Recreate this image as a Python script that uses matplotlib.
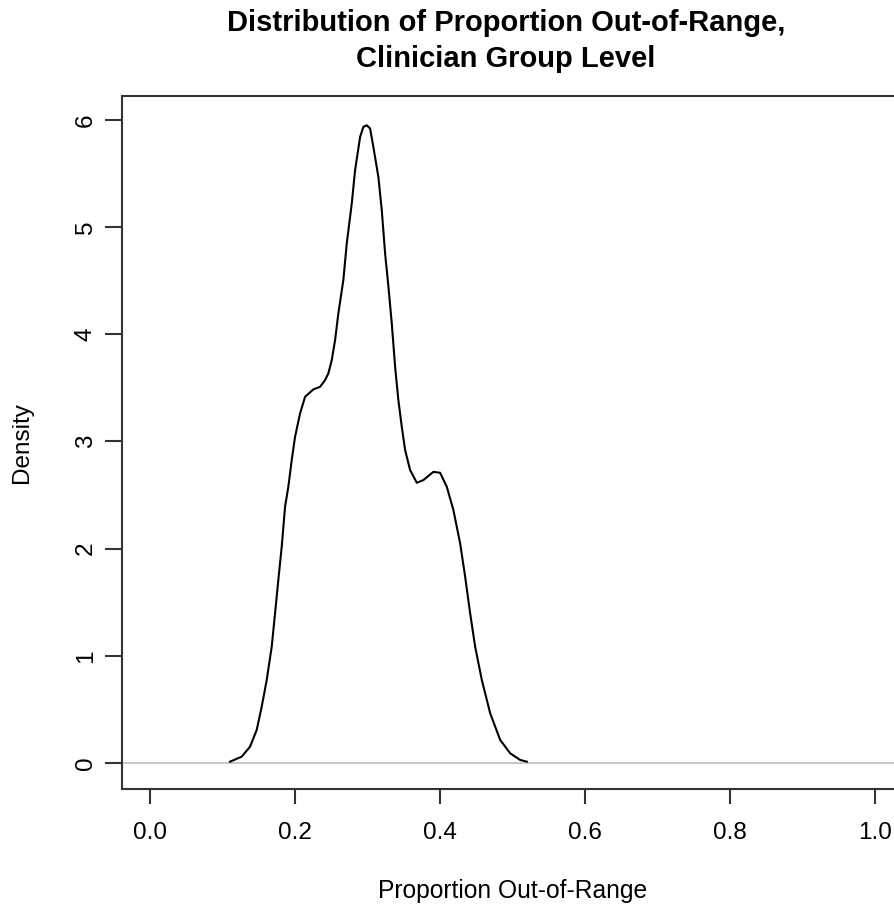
import numpy as np
import matplotlib
matplotlib.use('Agg')
import matplotlib.pyplot as plt

# Density curve (x = proportion out-of-range, y = density)
prop = [0.1104, 0.1265, 0.1380, 0.1472, 0.1541, 0.1610, 0.1679, 0.1725, 0.1770, 0.1817,
        0.1863, 0.1908, 0.1955, 0.2001, 0.2070, 0.2139, 0.2253, 0.2346, 0.2415, 0.2460,
        0.2507, 0.2553, 0.2598, 0.2667, 0.2714, 0.2783, 0.2829, 0.2898, 0.2943, 0.2990,
        0.3036, 0.3081, 0.3150, 0.3197, 0.3243, 0.3289, 0.3335, 0.3381, 0.3426, 0.3473,
        0.3519, 0.3588, 0.3680, 0.3771, 0.3909, 0.4002, 0.4094, 0.4185, 0.4278, 0.4347,
        0.4416, 0.4485, 0.4577, 0.4692, 0.4830, 0.4968, 0.5106, 0.5198]
density = [0.012, 0.059, 0.152, 0.308, 0.525, 0.774, 1.085, 1.396, 1.707, 2.018,
           2.391, 2.577, 2.826, 3.044, 3.262, 3.417, 3.486, 3.510, 3.573, 3.635,
           3.759, 3.946, 4.195, 4.506, 4.848, 5.221, 5.532, 5.842, 5.936, 5.951,
           5.921, 5.749, 5.469, 5.159, 4.755, 4.443, 4.102, 3.697, 3.386, 3.137,
           2.920, 2.733, 2.615, 2.640, 2.717, 2.708, 2.577, 2.360, 2.049, 1.738,
           1.396, 1.085, 0.774, 0.464, 0.215, 0.090, 0.028, 0.012]

x_ticks = [0.0, 0.2, 0.4, 0.6, 0.8, 1.0]
x_labels = ['0.0', '0.2', '0.4', '0.6', '0.8', '1.0']
y_ticks = [0, 1, 2, 3, 4, 5, 6]

plt.rcParams['font.family'] = ['Liberation Sans', 'DejaVu Sans']

W, H = 895, 905
fig = plt.figure(figsize=(W / 100, H / 100), dpi=100)
ax = fig.add_axes([122 / W, 1 - 789 / H, (904 - 122) / W, (789 - 95.6) / H])

ax.axhline(0, color='#c8c8c8', lw=1.5, zorder=1)
ax.plot(prop, density, color='black', lw=1.5, zorder=2, solid_joinstyle='round')

ax.set_xlim(-0.0386, 1.04)
ax.set_ylim(-0.243, 6.228)

ax.set_xticks(x_ticks)
ax.set_xticklabels(x_labels)
ax.set_yticks(y_ticks)
ax.set_yticklabels([str(v) for v in y_ticks], rotation=90, va='center')

for s in ax.spines.values():
    s.set_linewidth(1.5)
    s.set_color('#333333')

ax.tick_params(axis='x', length=11, width=1.5, color='#333333', labelsize=17.5, pad=13)
ax.tick_params(axis='y', length=12, width=1.5, color='#333333', labelsize=17.5, pad=6)

ax.set_xlabel('Proportion Out-of-Range', fontsize=17.7, labelpad=25)
ax.set_ylabel('Density', fontsize=17.5, labelpad=30)

fig.text(506 / W, 1 - 41 / H, 'Distribution of Proportion Out-of-Range,\nClinician Group Level',
         ha='center', va='center', fontsize=21.0, fontweight='bold', linespacing=1.33)

fig.savefig('out.png', dpi=100)
